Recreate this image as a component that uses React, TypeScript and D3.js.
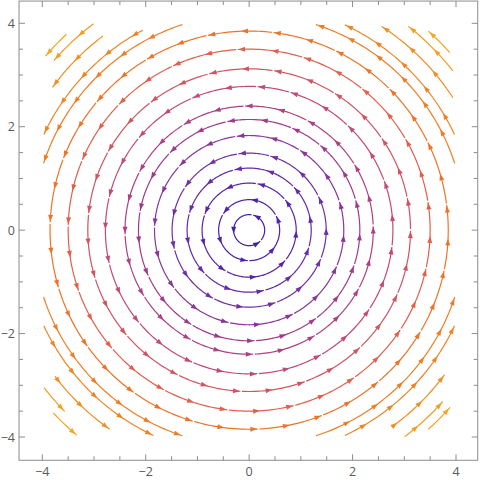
import React from "react";
import * as d3 from "d3";

// ---- data ----
// concentric streamlines of the field (-y, x): radii of complete circles
const circleRadii = [0.3, 0.59, 0.91, 1.2, 1.49, 1.83, 2.14, 2.4, 2.78, 3.12, 3.5, 3.85];
// arrow phase (degrees) per circle
const circlePhase = [60, 20, 75, 40, 95, 15, 65, 30, 85, 10, 50, 25];
// partial arcs in the corners: [radius, startDeg, endDeg]
const cornerArcs: [number, number, number][] = [
  [4.18, 18, 72], [4.38, 25, 65], [4.7, 33, 57], [5.0, 38, 52], [5.18, 41.5, 48],
  [4.18, 108, 162], [4.38, 118, 155], [4.7, 127, 144], [5.0, 127, 139], [5.18, 133, 139.5],
  [4.18, 198, 252], [4.38, 205, 245], [4.7, 217, 235], [5.0, 217.5, 224.5], [5.18, 223, 230],
  [4.18, 288, 342], [4.38, 295, 335], [4.7, 306, 323.5], [5.0, 307, 318.5], [5.18, 312, 318.6],
];
const majorTicks = [-4, -2, 0, 2, 4];
const minorTicks = [-4, -3.5, -3, -2.5, -2, -1.5, -1, -0.5, 0, 0.5, 1, 1.5, 2, 2.5, 3, 3.5, 4];
const colorStops = [0.3, 0.9, 1.5, 2.1, 2.8, 3.5, 3.85, 4.7, 5.2];
const colorValues = ["#4420aa", "#5626a8", "#7030a2", "#9c3a8e", "#c44a72", "#e0604c", "#ec7428", "#f08f22", "#f3a822"];

const W = 480, H = 480;
const x = d3.scaleLinear().domain([-4, 4]).range([42.3, 456]);
const y = d3.scaleLinear().domain([-4, 4]).range([437, 23.3]);
const frameX = [-4.45, 4.42];
const frameY = [-4.45, 4.43];
const color = d3.scaleLinear<string>().domain(colorStops).range(colorValues).interpolate(d3.interpolateRgb).clamp(true);

const pxPerUnit = (x(1) - x(0));
const ARROW_SPACING = 33 / pxPerUnit; // data units of arc length
const line = d3.line<[number, number]>().x((d) => x(d[0])).y((d) => y(d[1]));

function arcPoints(r: number, a0: number, a1: number): [number, number][] {
  const n = Math.max(4, Math.ceil(Math.abs(a1 - a0)));
  return d3.range(n + 1).map((i) => {
    const t = ((a0 + ((a1 - a0) * i) / n) * Math.PI) / 180;
    return [r * Math.cos(t), r * Math.sin(t)] as [number, number];
  });
}

function arrowPath(r: number, deg: number): string {
  const t = (deg * Math.PI) / 180;
  const px = x(r * Math.cos(t));
  const py = y(r * Math.sin(t));
  // tangent direction in screen coords (counterclockwise motion)
  const dx = -Math.sin(t);
  const dy = -Math.cos(t);
  const L = 6.8, Wd = 2.5;
  const tipX = px + dx * L * 0.5, tipY = py + dy * L * 0.5;
  const bx = px - dx * L * 0.5, by = py - dy * L * 0.5;
  const nx = -dy, ny = dx;
  return `M${tipX},${tipY}L${bx + nx * Wd},${by + ny * Wd}L${bx - nx * Wd},${by - ny * Wd}Z`;
}

type Piece = { r: number; segs: [number, number][]; arrows: number[] };

function buildCircle(r: number, phase: number): Piece {
  const C = 2 * Math.PI * r;
  const n = Math.max(3, Math.round(C / ARROW_SPACING));
  const step = 360 / n;
  const arrows = d3.range(n).map((i) => phase + i * step);
  const gapDeg = ((1.6 / pxPerUnit) / r) * 180 / Math.PI;
  const segs: [number, number][] = [];
  // gaps placed just after every other arrowhead
  const cuts = arrows.filter((_, i) => i % 2 === 0).map((a) => a + ((4 / pxPerUnit) / r) * 180 / Math.PI);
  if (cuts.length === 0) segs.push([0, 360]);
  for (let i = 0; i < cuts.length; i++) {
    const s = cuts[i] + gapDeg;
    const e = i + 1 < cuts.length ? cuts[i + 1] : cuts[0] + 360;
    segs.push([s, e]);
  }
  return { r, segs, arrows };
}

function buildArc(r: number, a0: number, a1: number): Piece {
  const L = ((a1 - a0) * Math.PI / 180) * r;
  const arrows: number[] = [];
  const endOff = 5 / pxPerUnit;
  for (let s = L - endOff; s > endOff * 0.6; s -= ARROW_SPACING) {
    arrows.push(a0 + (s / r) * 180 / Math.PI);
  }
  return { r, segs: [[a0, a1]], arrows };
}

export default function App() {
  const pieces: Piece[] = [
    ...circleRadii.map((r, i) => buildCircle(r, circlePhase[i])),
    ...cornerArcs.map(([r, a0, a1]) => buildArc(r, a0, a1)),
  ];
  const fx0 = x(frameX[0]), fx1 = x(frameX[1]);
  const fy0 = y(frameY[1]), fy1 = y(frameY[0]);
  const frameColor = "#8c8c8c";
  const labelColor = "#5a5a5a";
  return (
    <svg width={W} height={H} style={{ position: "absolute", left: 0, top: 0, background: "#fff" }}>
      <g fill="none" strokeWidth={1.2} strokeLinecap="butt">
        {pieces.map((p, i) => (
          <g key={i} stroke={color(p.r)}>
            {p.segs.map(([a0, a1], j) => (
              <path key={j} d={line(arcPoints(p.r, a0, a1)) || ""} />
            ))}
          </g>
        ))}
      </g>
      <g stroke="none">
        {pieces.map((p, i) => (
          <g key={i} fill={color(p.r)}>
            {p.arrows.map((a, j) => (
              <path key={j} d={arrowPath(p.r, a)} />
            ))}
          </g>
        ))}
      </g>
      <rect x={fx0} y={fy0} width={fx1 - fx0} height={fy1 - fy0} fill="none" stroke={frameColor} strokeWidth={1} />
      <g stroke={frameColor} strokeWidth={1}>
        {minorTicks.map((t) => {
          const major = majorTicks.includes(t);
          const len = major ? 6 : 4;
          return (
            <g key={t}>
              <line x1={x(t)} x2={x(t)} y1={fy1} y2={fy1 - len} />
              <line x1={x(t)} x2={x(t)} y1={fy0} y2={fy0 + len} />
              <line x1={fx0} x2={fx0 + len} y1={y(t)} y2={y(t)} />
              <line x1={fx1} x2={fx1 - len} y1={y(t)} y2={y(t)} />
            </g>
          );
        })}
      </g>
      <g fill={labelColor} fontFamily="'Open Sans', 'DejaVu Sans', sans-serif" fontSize={12.5}>
        {majorTicks.map((t) => (
          <text key={"x" + t} x={x(t)} y={fy1 + 16} textAnchor="middle">
            {t < 0 ? "\u2212" + Math.abs(t) : String(t)}
          </text>
        ))}
        {majorTicks.map((t) => (
          <text key={"y" + t} x={fx0 - 4} y={y(t) + 4.5} textAnchor="end">
            {t < 0 ? "\u2212" + Math.abs(t) : String(t)}
          </text>
        ))}
      </g>
    </svg>
  );
}
